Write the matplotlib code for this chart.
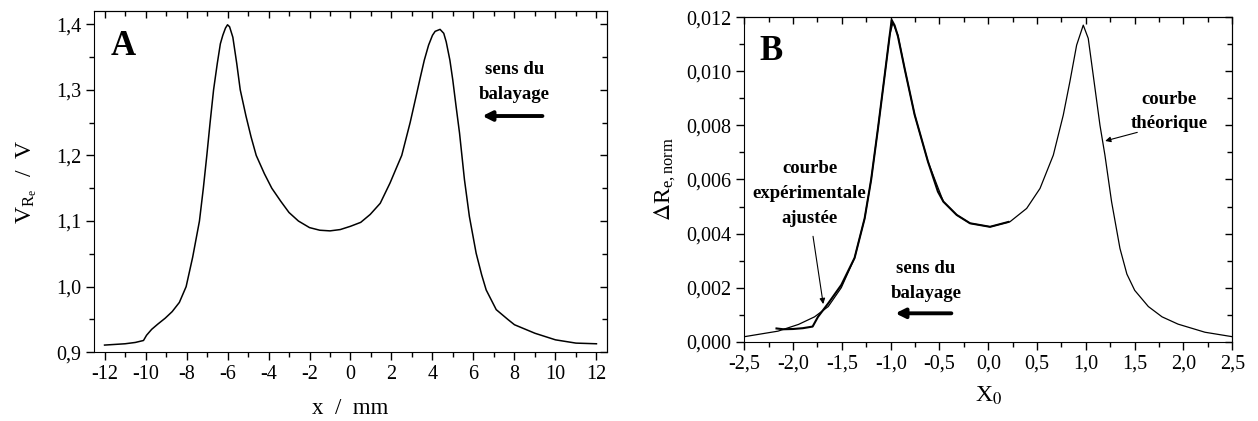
import numpy as np
import matplotlib
matplotlib.use("Agg")
import matplotlib.pyplot as plt
from matplotlib.ticker import MultipleLocator, FuncFormatter, NullFormatter

plt.rcParams['font.family'] = ['Liberation Serif', 'DejaVu Serif']
plt.rcParams['mathtext.fontset'] = 'stix'

# panel A : signal vs position
xa = [-12.0, -11.5, -11.0, -10.5, -10.1, -9.95, -9.7, -9.4, -9.04, -8.7, -8.35, -8.02, -7.7,
      -7.37, -7.18, -7.01, -6.85, -6.68, -6.5, -6.35, -6.23, -6.1, -6.0, -5.9, -5.74, -5.55,
      -5.38, -5.1, -4.85, -4.6, -4.2, -3.84, -3.4, -3.0, -2.54, -2.0, -1.5, -1.0, -0.5, 0.0,
      0.5, 0.96, 1.45, 1.93, 2.2, 2.5, 2.91, 3.2, 3.4, 3.6, 3.81, 4.0, 4.13, 4.37, 4.55, 4.67,
      4.85, 4.99, 5.15, 5.32, 5.56, 5.8, 6.13, 6.4, 6.62, 7.11, 7.68, 8.0, 9.0, 10.0, 11.0, 12.0]
va = [0.911, 0.912, 0.913, 0.915, 0.918, 0.926, 0.935, 0.943, 0.952, 0.962, 0.976, 1.0, 1.045,
      1.1, 1.15, 1.2, 1.25, 1.3, 1.34, 1.37, 1.383, 1.394, 1.399, 1.396, 1.38, 1.34,
      1.3, 1.26, 1.228, 1.2, 1.172, 1.15, 1.13, 1.113, 1.1, 1.09, 1.086, 1.085, 1.087, 1.092,
      1.098, 1.11, 1.127, 1.158, 1.178, 1.2, 1.25, 1.29, 1.318, 1.345, 1.368, 1.383, 1.389, 1.392, 1.386, 1.373,
      1.345, 1.315, 1.275, 1.234, 1.163, 1.107, 1.051, 1.018, 0.995, 0.965, 0.95, 0.942, 0.929, 0.919, 0.914, 0.913]

# panel B : theoretical curve
xt = [-2.5, -2.155, -1.944, -1.78, -1.64, -1.506, -1.37, -1.267, -1.2, -1.13, -1.06, -1.01,
      -0.977, -0.926, -0.857, -0.755, -0.618, -0.46, -0.324, -0.187, 0.018, 0.223, 0.393, 0.53,
      0.666, 0.768, 0.836, 0.905, 0.973, 1.024, 1.075, 1.144, 1.195, 1.263, 1.349, 1.42, 1.5,
      1.64, 1.78, 1.944, 2.22, 2.5]
yt = [0.000185, 0.00039, 0.00064, 0.00092, 0.0013, 0.002, 0.0031, 0.00456, 0.006, 0.0079, 0.0099, 0.01134,
      0.0118, 0.01134, 0.0101, 0.0084, 0.00666, 0.00518, 0.00469, 0.00438, 0.00425, 0.00444, 0.00493, 0.00567,
      0.0069, 0.00838, 0.00962, 0.01097, 0.01171, 0.01122, 0.00986, 0.00801, 0.0069, 0.00518, 0.00345, 0.0025, 0.0019,
      0.0013, 0.00092, 0.00065, 0.00035, 0.000185]

# panel B : fitted experimental curve
xe = [-2.17, -2.1, -2.0, -1.9, -1.8, -1.745, -1.64, -1.506, -1.37, -1.267, -1.2, -1.13, -1.06,
      -1.01, -0.99, -0.96, -0.926, -0.857, -0.755, -0.618, -0.516, -0.46, -0.324, -0.187, 0.018, 0.206]
ye = [0.00049, 0.00046, 0.00047, 0.0005, 0.00056, 0.00092, 0.00142, 0.0021, 0.0031, 0.00456, 0.006, 0.0079, 0.0099,
      0.01134, 0.0119, 0.0117, 0.0113, 0.0101, 0.0084, 0.00666, 0.00555, 0.00518, 0.00469, 0.00438, 0.00425, 0.00443]


def comma(fmt):
    return FuncFormatter(lambda v, p: (fmt % v).replace('.', ','))


def style(ax, xmaj, xmin, ymaj, ymin):
    ax.xaxis.set_major_locator(MultipleLocator(xmaj))
    ax.xaxis.set_minor_locator(MultipleLocator(xmin))
    ax.yaxis.set_major_locator(MultipleLocator(ymaj))
    ax.yaxis.set_minor_locator(MultipleLocator(ymin))
    ax.tick_params(which='both', labelsize=14.5, width=1, direction='out', top=False, right=False)
    ax.tick_params(which='major', length=6)
    ax.tick_params(which='minor', length=3.5)
    sx = ax.secondary_xaxis('top')
    sy = ax.secondary_yaxis('right')
    sx.xaxis.set_major_locator(MultipleLocator(xmaj))
    sx.xaxis.set_minor_locator(MultipleLocator(xmin))
    sy.yaxis.set_major_locator(MultipleLocator(ymaj))
    sy.yaxis.set_minor_locator(MultipleLocator(ymin))
    sx.xaxis.set_major_formatter(NullFormatter())
    sy.yaxis.set_major_formatter(NullFormatter())
    for s in (sx, sy):
        s.tick_params(which='both', direction='in', width=1)
        s.tick_params(which='major', length=5)
        s.tick_params(which='minor', length=3.5)


fig = plt.figure(figsize=(12.58, 4.21), dpi=100)
bold = dict(ha='center', va='center', fontsize=13.5, fontweight='bold')

ax1 = fig.add_axes([0.07496, 0.16318, 0.40731, 0.81069])
ax1.plot(xa, va, 'k-', lw=1.1)
ax1.set_xlim(-12.5, 12.5)
ax1.set_ylim(0.9, 1.42)
style(ax1, 2, 1, 0.1, 0.05)
ax1.yaxis.set_major_formatter(comma('%.1f'))
ax1.xaxis.set_major_formatter(FuncFormatter(lambda v, p: '%d' % round(v)))
ax1.set_xlabel('x  /  mm', fontsize=16.5, labelpad=10)
ax1.set_ylabel(r'V$_{\mathregular{R_e}}$  /  V', fontsize=17, labelpad=12)
ax1.text(0.031, 0.871, 'A', transform=ax1.transAxes, fontsize=25, fontweight='bold', va='baseline')
ax1.text(8.0, 1.331, 'sens du', **bold)
ax1.text(8.0, 1.293, 'balayage', **bold)
ax1.annotate('', xy=(6.3, 1.26), xytext=(9.5, 1.26),
             arrowprops=dict(arrowstyle='-|>', lw=2.8, color='k', mutation_scale=14))

ax2 = fig.add_axes([0.59165, 0.18836, 0.38792, 0.77055])
ax2.plot(xt, yt, 'k-', lw=0.9)
ax2.plot(xe, ye, 'k-', lw=1.5)
ax2.set_xlim(-2.5, 2.5)
ax2.set_ylim(0, 0.012)
style(ax2, 0.5, 0.25, 0.002, 0.001)
ax2.yaxis.set_major_formatter(comma('%.3f'))
ax2.xaxis.set_major_formatter(comma('%.1f'))
ax2.set_xlabel(r'X$_0$', fontsize=17, labelpad=8)
ax2.set_ylabel(r'$\Delta$R$_{\mathregular{e,norm}}$', fontsize=17, labelpad=6)
ax2.text(0.0316, 0.868, 'B', transform=ax2.transAxes, fontsize=25, fontweight='bold', va='baseline')
ax2.text(1.856, 0.00896, 'courbe', **bold)
ax2.text(1.856, 0.00808, 'théorique', **bold)
ax2.annotate('', xy=(1.17, 0.0074), xytext=(1.554, 0.00777),
             arrowprops=dict(arrowstyle='-|>', lw=0.8, color='k', mutation_scale=8))
ax2.text(-1.83, 0.00641, 'courbe', **bold)
ax2.text(-1.83, 0.00549, 'expérimentale', **bold)
ax2.text(-1.83, 0.00456, 'ajustée', **bold)
ax2.annotate('', xy=(-1.687, 0.00129), xytext=(-1.80, 0.0040),
             arrowprops=dict(arrowstyle='-|>', lw=0.8, color='k', mutation_scale=8))
ax2.text(-0.64, 0.00271, 'sens du', **bold)
ax2.text(-0.64, 0.00179, 'balayage', **bold)
ax2.annotate('', xy=(-0.98, 0.00105), xytext=(-0.35, 0.00105),
             arrowprops=dict(arrowstyle='-|>', lw=2.8, color='k', mutation_scale=14))

fig.savefig('out.png', dpi=100)
